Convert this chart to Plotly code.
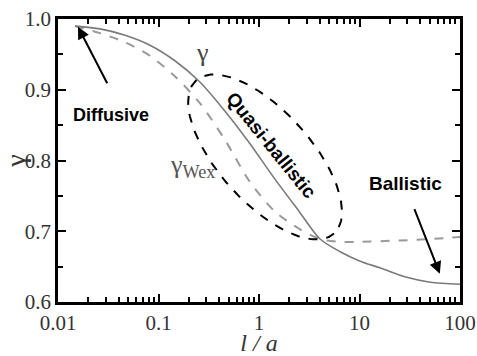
import numpy as np
import plotly.graph_objects as go

# ---- data ----
l_gamma = [0.0148, 0.0262, 0.0464, 0.0822, 0.1456, 0.258, 0.457, 0.810, 1.435, 2.54, 4.05, 6.43, 10.0, 16.2, 29.5, 50.6, 100]
gamma = [0.990, 0.986, 0.977, 0.963, 0.941, 0.911, 0.870, 0.824, 0.774, 0.727, 0.689, 0.671, 0.658, 0.648, 0.635, 0.628, 0.625]

l_wex = [0.0148, 0.0262, 0.0464, 0.0822, 0.1456, 0.258, 0.459, 0.810, 1.435, 2.54, 4.05, 6.43, 10.0, 25.3, 50.6, 100]
gamma_wex = [0.990, 0.980, 0.967, 0.948, 0.919, 0.881, 0.829, 0.770, 0.728, 0.703, 0.689, 0.685, 0.685, 0.687, 0.689, 0.692]

x_tickvals = [0.01, 0.1, 1, 10, 100]
x_ticktext = ["0.01", "0.1", "1", "10", "100"]
y_tickvals = [0.6, 0.7, 0.8, 0.9, 1.0]
y_ticktext = ["0.6", "0.7", "0.8", "0.9", "1.0"]

W, H = 477, 356
ML, MR, MT, MB = 58, 17, 19, 54
XR = [-2, 2]
YR = [0.6, 1.0]

# ellipse (Quasi-ballistic region), defined in screen-space relative to data centre
px_per_dec = (W - ML - MR) / (XR[1] - XR[0])
px_per_g = (H - MT - MB) / (YR[1] - YR[0])
ell_cx, ell_cy = np.log10(1.15), 0.805
a_px, b_px, ang = 103, 46, np.deg2rad(48)
t = np.linspace(0, 2 * np.pi, 200)
dx = a_px * np.cos(t) * np.cos(ang) - b_px * np.sin(t) * np.sin(ang)
dy = a_px * np.cos(t) * np.sin(ang) + b_px * np.sin(t) * np.cos(ang)  # screen down
ell_x = 10 ** (ell_cx + dx / px_per_dec)
ell_y = ell_cy - dy / px_per_g

fig = go.Figure()
fig.add_trace(go.Scatter(x=l_wex, y=gamma_wex, mode="lines",
                         line=dict(color="#9a9a9a", width=2, dash="dash", shape="spline", smoothing=0.8), hoverinfo="skip"))
fig.add_trace(go.Scatter(x=l_gamma, y=gamma, mode="lines",
                         line=dict(color="#7a7a7a", width=1.6, shape="spline", smoothing=0.8), hoverinfo="skip"))
fig.add_trace(go.Scatter(x=ell_x, y=ell_y, mode="lines", line=dict(color="black", width=2, dash="dash"), hoverinfo="skip"))

serif = "Liberation Serif"
sans = "Liberation Sans"

axis_common = dict(
    showline=True, linecolor="black", linewidth=2.5, mirror="ticks",
    ticks="inside", tickcolor="black", tickwidth=2, ticklen=8,
    showgrid=False, zeroline=False, automargin=False,
    tickfont=dict(family=serif, size=21, color="#333333"),
)
fig.update_xaxes(type="log", range=XR, tickvals=x_tickvals, ticktext=x_ticktext,
                 minor=dict(ticks="inside", ticklen=5, tickwidth=1.5, tickcolor="black", dtick="D1"),
                 title=dict(text="<i>l / a</i>", font=dict(family=serif, size=24, color="#333333"), standoff=2),
                 **axis_common)
fig.update_yaxes(range=YR, tickvals=y_tickvals, ticktext=y_ticktext,
                 minor=dict(ticks="inside", ticklen=5, tickwidth=1.5, tickcolor="black", dtick=0.05),
                 title=dict(text="γ", font=dict(family=serif, size=28, color="#333333"), standoff=2),
                 **axis_common)

ann_font = dict(family=sans, size=18, color="black")
ann_font2 = dict(family=sans, size=19, color="black")
fig.add_annotation(x=np.log10(0.0336), y=0.864, text="<b>Diffusive</b>", showarrow=False, font=ann_font)
fig.add_annotation(x=np.log10(29), y=0.768, text="<b>Ballistic</b>", showarrow=False, font=ann_font2)
fig.add_annotation(x=np.log10(1.33), y=0.821, text="<b>Quasi-ballistic</b>", showarrow=False, font=ann_font2, textangle=51)
fig.add_annotation(x=np.log10(0.277), y=0.952, text="γ", showarrow=False, font=dict(family=serif, size=26, color="#444444"))
fig.add_annotation(x=np.log10(0.22), y=0.792, text="γ<sub>Wex</sub>", showarrow=False, font=dict(family=serif, size=26, color="#555555"))
# arrows
fig.add_annotation(x=np.log10(0.0158), y=0.989, ax=30, ay=58, text="", showarrow=True,
                   arrowhead=2, arrowsize=1.2, arrowwidth=2, arrowcolor="black")
fig.add_annotation(x=np.log10(63), y=0.640, ax=-26, ay=-66, text="", showarrow=True,
                   arrowhead=2, arrowsize=1.2, arrowwidth=2, arrowcolor="black")

fig.update_layout(width=W, height=H, margin=dict(l=ML, r=MR, t=MT, b=MB),
                  paper_bgcolor="white", plot_bgcolor="white", showlegend=False)

fig.write_html("out.html", config={"displayModeBar": False},
               post_script="document.body.style.margin='0';")
